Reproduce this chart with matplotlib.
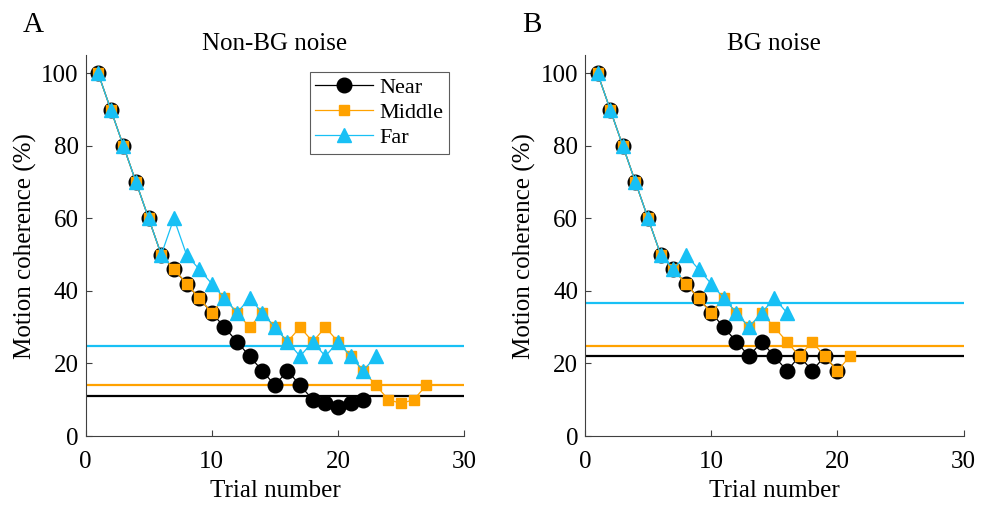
import numpy as np
import matplotlib
matplotlib.use('Agg')
import matplotlib.pyplot as plt

plt.rcParams['font.family'] = ['Liberation Serif', 'DejaVu Serif']

#%% - Data
# Panel A - Non-BG noise
a_near = [100, 90, 80, 70, 60, 50, 46, 42, 38, 34, 30, 26, 22, 18, 14, 18, 14, 10, 9, 8, 9, 10]
a_middle = [100, 90, 80, 70, 60, 50, 46, 42, 38, 34, 38, 34, 30, 34, 30, 26, 30, 26, 30, 26,
            22, 18, 14, 10, 9, 10, 14]
a_far = [100, 90, 80, 70, 60, 50, 60, 50, 46, 42, 38, 34, 38, 34, 30, 26, 22, 26, 22, 26, 22, 18, 22]
a_thresh = [11, 14, 24.7]  # near, middle, far

# Panel B - BG noise
b_near = [100, 90, 80, 70, 60, 50, 46, 42, 38, 34, 30, 26, 22, 26, 22, 18, 22, 18, 22, 18]
b_middle = [100, 90, 80, 70, 60, 50, 46, 42, 38, 34, 38, 34, 30, 34, 30, 26, 22, 26, 22, 18, 22]
b_far = [100, 90, 80, 70, 60, 50, 46, 50, 46, 42, 38, 34, 30, 34, 38, 34]
b_thresh = [22, 24.7, 36.7]

titles = ['Non-BG noise', 'BG noise']
panel_labels = ['A', 'B']
series_names = ['Near', 'Middle', 'Far']

#%% - Styles
c_near = 'black'
c_mid = '#FFA200'
c_far = '#18C0F5'
colors = [c_near, c_mid, c_far]
markers = ['o', 's', '^']
msizes = [10.5, 6.5, 9.5]
fs = 18

fig = plt.figure(figsize=(9.81, 5.05), dpi=100)
ax_a = fig.add_axes([0.0872, 0.1366, 0.386, 0.754])
ax_b = fig.add_axes([0.5963, 0.1366, 0.386, 0.754])

panels = [(ax_a, [a_near, a_middle, a_far], a_thresh),
          (ax_b, [b_near, b_middle, b_far], b_thresh)]

for i, (ax, data, thresh) in enumerate(panels):
    # threshold lines across the full range
    for th, col in zip(thresh, colors):
        ax.plot([0, 30], [th, th], color=col, lw=1.6, zorder=1)
    for vals, col, mk, ms, name in zip(data, colors, markers, msizes, series_names):
        trials = np.arange(1, len(vals) + 1)
        ax.plot(trials, vals, color=col, lw=0.9, marker=mk, markersize=ms,
                markerfacecolor=col, markeredgecolor=col, label=name, zorder=2)

    ax.set_xlim(0, 30)
    ax.set_ylim(0, 105)
    ax.set_xticks([0, 10, 20, 30])
    ax.set_yticks([0, 20, 40, 60, 80, 100])
    ax.spines['top'].set_visible(False)
    ax.spines['right'].set_visible(False)
    for sp in ['left', 'bottom']:
        ax.spines[sp].set_color('#404040')
        ax.spines[sp].set_linewidth(0.8)
    ax.tick_params(direction='in', length=4, width=0.8, color='#404040',
                   labelsize=fs, labelcolor='black', pad=5)
    ax.tick_params(axis='x', pad=11)
    ax.set_xlabel('Trial number', fontsize=fs, labelpad=5)
    ax.set_ylabel('Motion coherence (%)', fontsize=fs, labelpad=3)
    ax.set_title(titles[i], fontsize=fs, pad=4)
    ax.text(-0.165, 1.045, panel_labels[i], transform=ax.transAxes, fontsize=21,
            ha='left', va='bottom')

leg = ax_a.legend(loc='upper right', bbox_to_anchor=(0.99, 0.985), fontsize=16,
                  frameon=True, fancybox=False, edgecolor='#333333',
                  handlelength=2.6, borderpad=0.25, labelspacing=0.2, handletextpad=0.3)
leg.get_frame().set_linewidth(0.8)

fig.savefig('out.png', dpi=100)
